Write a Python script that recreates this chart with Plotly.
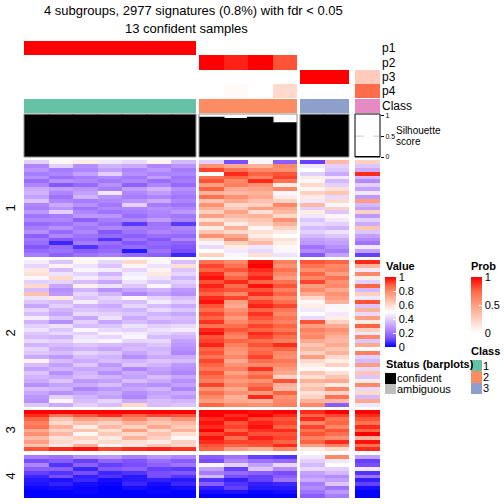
import plotly.graph_objects as go

# ---------------- data ----------------
group_sizes = [7, 4, 2, 1]
row_group_labels = ["1", "2", "3", "4"]
annotation_names = ["p1", "p2", "p3", "p4"]

p1 = [1, 1, 1, 1, 1, 1, 1, 0, 0, 0, 0, 0, 0, 0]
p2 = [0, 0, 0, 0, 0, 0, 0, 1.0, 0.92, 1.0, 0.8, 0, 0, 0]
p3 = [0, 0, 0, 0, 0, 0, 0, 0, 0, 0, 0, 1, 1, 0.27]
p4 = [0, 0, 0, 0, 0, 0, 0, 0, 0.03, 0, 0.2, 0, 0, 0.73]
sample_class = [1, 1, 1, 1, 1, 1, 1, 2, 2, 2, 2, 3, 3, 4]
silhouette = [1, 1, 1, 1, 1, 1, 1, 0.94, 0.91, 0.94, 0.81, 1, 1, 0]

class_colors = {1: "#66C2A5", 2: "#FC8D62", 3: "#8DA0CB", 4: "#E78AC3"}
class_legend_labels = ["1", "2", "3"]
status_labels = ["confident", "ambiguous"]
status_colors = ["#000000", "#BEBEBE"]

rows_group1 = [
    [0.40,0.52,0.55,0.45,0.42,0.53,0.35, 0.40,0.12,0.48,0.15, 0.10,0.68, 0.62],
    [0.24,0.40,0.26,0.34,0.32,0.24,0.27, 0.78,0.72,0.70,0.80, 0.45,0.40, 0.38],
    [0.27,0.22,0.24,0.29,0.24,0.28,0.22, 0.92,0.85,0.80,0.78, 0.50,0.38, 0.32],
    [0.22,0.24,0.30,0.40,0.26,0.23,0.24, 0.50,0.95,0.88,0.90, 0.40,0.32, 0.95],
    [0.26,0.19,0.22,0.24,0.21,0.29,0.20, 0.85,0.88,0.82,0.92, 0.55,0.45, 0.35],
    [0.19,0.26,0.24,0.21,0.24,0.19,0.22, 0.90,0.80,0.95,0.85, 0.48,0.35, 0.25],
    [0.24,0.14,0.18,0.26,0.16,0.24,0.18, 0.75,0.82,0.78,0.55, 0.60,0.40, 0.40],
    [0.32,0.29,0.27,0.22,0.29,0.34,0.26, 0.88,0.72,0.74,0.80, 0.52,0.58, 0.30],
    [0.34,0.24,0.30,0.45,0.24,0.29,0.23, 0.70,0.68,0.70,0.48, 0.62,0.65, 0.45],
    [0.30,0.20,0.34,0.26,0.22,0.24,0.21, 0.85,0.78,0.72,0.55, 0.55,0.42, 0.28],
    [0.38,0.24,0.22,0.24,0.27,0.32,0.24, 0.65,0.72,0.66,0.62, 0.45,0.60, 0.75],
    [0.24,0.32,0.26,0.21,0.40,0.22,0.20, 0.78,0.60,0.62,0.80, 0.68,0.48, 0.35],
    [0.22,0.27,0.20,0.24,0.24,0.26,0.24, 0.70,0.65,0.75,0.72, 0.40,0.62, 0.30],
    [0.28,0.40,0.24,0.20,0.22,0.24,0.28, 0.62,0.74,0.58,0.68, 0.55,0.38, 0.62],
    [0.20,0.22,0.28,0.27,0.19,0.23,0.21, 0.75,0.68,0.70,0.60, 0.45,0.52, 0.28],
    [0.24,0.24,0.16,0.22,0.24,0.29,0.23, 0.58,0.62,0.65,0.78, 0.38,0.45, 0.40],
    [0.18,0.20,0.24,0.19,0.09,0.20,0.09, 0.72,0.55,0.62,0.70, 0.42,0.40, 0.32],
    [0.22,0.26,0.21,0.24,0.22,0.21,0.24, 0.55,0.70,0.52,0.62, 0.36,0.34, 0.65],
    [0.26,0.18,0.24,0.14,0.20,0.24,0.22, 0.65,0.60,0.58,0.55, 0.40,0.44, 0.38],
    [0.16,0.24,0.20,0.18,0.16,0.19,0.18, 0.78,0.72,0.55,0.50, 0.35,0.38, 0.30],
    [0.21,0.14,0.18,0.08,0.20,0.14,0.24, 0.60,0.80,0.62,0.58, 0.30,0.32, 0.25],
    [0.19,0.06,0.22,0.19,0.14,0.18,0.16, 0.48,0.62,0.68,0.55, 0.28,0.30, 0.20],
    [0.14,0.18,0.08,0.16,0.18,0.16,0.14, 0.42,0.55,0.45,0.52, 0.20,0.26, 0.45],
    [0.18,0.20,0.16,0.18,0.04,0.20,0.12, 0.50,0.45,0.42,0.48, 0.25,0.22, 0.30],
    [0.22,0.16,0.20,0.22,0.18,0.16,0.06, 0.62,0.48,0.58,0.44, 0.14,0.30, 0.10],
]

rows_group2 = [
    [0.46,0.38,0.52,0.41,0.60,0.48,0.36, 0.85,0.80,0.98,0.82, 0.90,0.88, 0.95],
    [0.41,0.53,0.44,0.38,0.52,0.44,0.58, 0.92,0.85,1.00,0.78, 0.85,0.80, 0.70],
    [0.56,0.36,0.48,0.46,0.41,0.53,0.38, 0.88,0.90,0.95,0.85, 0.78,0.82, 0.45],
    [0.58,0.44,0.41,0.34,0.46,0.56,0.41, 0.95,0.82,0.92,0.80, 0.88,0.75, 0.80],
    [0.48,0.60,0.46,0.41,0.48,0.44,0.34, 0.98,0.88,0.96,0.75, 0.80,0.85, 0.55],
    [0.40,0.41,0.36,0.31,0.44,0.38,0.40, 0.90,0.95,0.88,0.85, 0.92,0.78, 0.40],
    [0.60,0.31,0.54,0.44,0.38,0.48,0.36, 0.96,0.86,0.98,0.90, 0.75,0.80, 0.88],
    [0.36,0.26,0.34,0.26,0.31,0.34,0.28, 0.92,0.90,0.90,0.82, 0.80,0.72, 0.35],
    [0.66,0.28,0.41,0.34,0.24,0.30,0.26, 0.88,0.80,0.95,0.88, 0.72,0.78, 0.62],
    [0.44,0.56,0.38,0.41,0.52,0.41,0.36, 0.95,0.92,0.85,0.80, 0.60,0.75, 0.45],
    [0.38,0.36,0.46,0.38,0.36,0.46,0.40, 0.98,0.75,0.92,0.86, 0.52,0.70, 0.90],
    [0.31,0.40,0.34,0.32,0.41,0.36,0.32, 0.90,0.72,0.96,0.92, 0.55,0.48, 0.38],
    [0.41,0.34,0.38,0.36,0.34,0.42,0.38, 0.86,0.78,0.88,0.84, 0.45,0.52, 0.70],
    [0.36,0.31,0.42,0.40,0.38,0.34,0.31, 0.92,0.82,0.94,0.80, 0.50,0.45, 0.42],
    [0.46,0.38,0.31,0.44,0.32,0.38,0.36, 0.88,0.76,0.90,0.85, 0.42,0.55, 0.75],
    [0.34,0.26,0.40,0.31,0.36,0.32,0.34, 0.94,0.80,0.86,0.82, 0.90,0.62, 0.55],
    [0.40,0.44,0.36,0.38,0.44,0.40,0.42, 0.85,0.86,0.92,0.88, 0.75,0.72, 0.88],
    [0.44,0.38,0.48,0.42,0.40,0.44,0.46, 0.95,0.90,0.88,0.84, 0.82,0.78, 0.62],
    [0.38,0.42,0.40,0.53,0.46,0.41,0.38, 0.98,0.85,0.95,0.90, 0.78,0.75, 0.45],
    [0.36,0.34,0.44,0.41,0.48,0.36,0.34, 0.90,0.80,0.92,0.86, 0.80,0.70, 0.80],
    [0.42,0.40,0.46,0.48,0.41,0.42,0.30, 0.92,0.88,0.86,0.82, 0.72,0.68, 0.38],
    [0.34,0.36,0.38,0.36,0.34,0.38,0.28, 0.96,0.82,0.90,0.95, 0.65,0.72, 0.72],
    [0.41,0.32,0.34,0.31,0.36,0.34,0.26, 0.88,0.78,0.85,0.88, 0.70,0.65, 0.50],
    [0.38,0.36,0.41,0.38,0.31,0.36,0.24, 0.90,0.76,0.88,0.80, 0.62,0.70, 0.82],
    [0.32,0.28,0.36,0.34,0.26,0.32,0.32, 0.85,0.80,0.92,0.78, 0.75,0.60, 0.40],
    [0.53,0.36,0.32,0.36,0.34,0.38,0.36, 0.92,0.72,0.86,0.84, 0.60,0.55, 0.35],
    [0.36,0.30,0.38,0.28,0.38,0.34,0.28, 0.88,0.78,0.80,0.80, 0.55,0.62, 0.75],
    [0.30,0.34,0.31,0.32,0.24,0.30,0.26, 0.84,0.82,0.94,0.76, 0.52,0.50, 0.42],
    [0.38,0.26,0.34,0.26,0.32,0.28,0.24, 0.90,0.74,0.82,0.72, 0.65,0.58, 0.65],
    [0.34,0.32,0.36,0.34,0.30,0.36,0.31, 0.86,0.80,0.88,0.62, 0.58,0.65, 0.38],
    [0.32,0.38,0.28,0.30,0.36,0.32,0.26, 0.82,0.76,0.78,0.90, 0.70,0.72, 0.55],
    [0.26,0.30,0.32,0.36,0.28,0.26,0.30, 0.92,0.80,0.85,0.70, 0.62,0.55, 0.80],
    [0.36,0.34,0.24,0.28,0.31,0.34,0.24, 0.78,0.72,0.90,0.68, 0.66,0.80, 0.42],
    [0.31,0.26,0.30,0.32,0.26,0.30,0.32, 0.86,0.78,0.76,0.88, 0.58,0.62, 0.60],
    [0.28,0.40,0.34,0.30,0.24,0.32,0.28, 0.80,0.70,0.95,0.78, 0.62,0.85, 0.35],
    [0.26,0.52,0.36,0.41,0.32,0.36,0.34, 0.75,0.72,0.70,0.80, 0.70,0.68, 0.72],
    [0.38,0.32,0.40,0.36,0.60,0.36,0.38, 0.88,0.80,0.78,0.82, 0.80,0.15, 0.45],
]

rows_group3 = [
    [1.00,1.00,1.00,1.00,1.00,1.00,1.00, 1.00,1.00,0.98,1.00, 0.95,1.00, 1.00],
    [0.95,0.85,0.90,0.95,0.88,0.92,0.90, 1.00,0.95,1.00,0.95, 0.88,0.92, 0.95],
    [0.88,0.65,0.75,0.72,0.80,0.70,0.78, 0.95,0.98,0.92,0.90, 0.95,0.85, 0.90],
    [0.82,0.60,0.66,0.62,0.70,0.65,0.68, 0.98,0.90,0.96,0.92, 0.80,0.88, 0.85],
    [0.85,0.70,0.55,0.68,0.62,0.72,0.64, 0.95,0.92,0.98,0.88, 0.92,0.80, 0.95],
    [0.72,0.62,0.66,0.58,0.75,0.60,0.70, 1.00,0.88,0.94,0.95, 0.85,0.90, 0.88],
    [0.78,0.68,0.52,0.64,0.60,0.66,0.58, 0.92,0.95,0.90,0.90, 0.90,0.86, 1.00],
    [0.68,0.58,0.62,0.55,0.70,0.62,0.52, 0.98,0.86,0.96,0.92, 0.82,0.78, 0.70],
    [0.75,0.60,0.56,0.60,0.58,0.55,0.62, 0.95,0.92,0.92,0.88, 0.88,0.95, 0.98],
    [0.65,0.55,0.70,0.52,0.56,0.64,0.60, 0.90,0.88,0.90,0.95, 0.75,0.82, 0.85],
    [0.90,0.95,0.98,0.92,0.95,0.96,0.94, 0.88,0.75,0.70,0.80, 0.55,0.60, 0.95],
]

rows_group4 = [
    [0.22,0.20,0.26,0.28,0.22,0.27,0.24, 0.15,0.20,0.10,0.08, 0.45,0.80, 0.30],
    [0.12,0.15,0.10,0.17,0.13,0.19,0.15, 0.12,0.25,0.20,0.18, 0.40,0.45, 0.10],
    [0.24,0.08,0.16,0.10,0.12,0.16,0.20, 0.48,0.40,0.30,0.42, 0.35,0.50, 0.12],
    [0.15,0.16,0.06,0.14,0.16,0.10,0.09, 0.30,0.10,0.38,0.25, 0.42,0.40, 0.45],
    [0.10,0.08,0.12,0.06,0.08,0.12,0.14, 0.22,0.18,0.15,0.12, 0.30,0.35, 0.08],
    [0.06,0.12,0.05,0.08,0.04,0.12,0.08, 0.35,0.12,0.10,0.15, 0.28,0.25, 0.20],
    [0.04,0.03,0.06,0.02,0.04,0.05,0.04, 0.08,0.05,0.10,0.20, 0.32,0.30, 0.05],
    [0.03,0.05,0.02,0.01,0.06,0.02,0.06, 0.15,0.08,0.05,0.06, 0.22,0.38, 0.10],
    [0.01,0.02,0.01,0.00,0.02,0.01,0.02, 0.05,0.10,0.04,0.04, 0.25,0.20, 0.02],
    [0.00,0.00,0.01,0.00,0.00,0.01,0.00, 0.02,0.03,0.01,0.02, 0.20,0.28, 0.00],
    [0.00,0.00,0.00,0.00,0.00,0.00,0.00, 0.00,0.00,0.00,0.00, 0.15,0.22, 0.00],
]

value_ticks = [0, 0.2, 0.4, 0.6, 0.8, 1]
value_tick_text = ["0", "0.2", "0.4", "0.6", "0.8", "1"]
prob_ticks = [0, 0.5, 1]
prob_tick_text = ["0", "0.5", "1"]
sil_ticks = [0, 0.5, 1]
sil_tick_text = ["0", "0.5", "1"]

# ---------------- layout constants (pixels) ----------------
W = H = 504
FONT = "Liberation Sans, Arial, Helvetica, sans-serif"
col_px = [(24, 196), (199, 297), (300, 349), (355, 380)]
row_px = [(160, 257), (260, 407), (410, 451), (455, 498)]
p_px = (41, 98)
class_px = (99, 113)
sil_px = (114, 157)


def fx(p):
    return p / W


def fy(p):
    return 1 - p / H


value_scale = [[0, "#0000FF"], [0.125, "#7E51FF"], [0.25, "#B38BFF"], [0.375, "#DCC4FF"],
               [0.5, "#FFFFFF"], [0.625, "#FFCFBF"], [0.75, "#FF9E81"], [0.875, "#FF6846"],
               [1, "#FF0000"]]
prob_scale = [[0, "#FFFFFF"], [0.25, "#FFCFBF"], [0.5, "#FF9E81"], [0.75, "#FF6846"], [1, "#FF0000"]]

fig = go.Figure()

row_groups = [rows_group1, rows_group2, rows_group3, rows_group4]
starts = [0]
for n in group_sizes[:-1]:
    starts.append(starts[-1] + n)


def xname(ci):
    return "x" if ci == 0 else f"x{ci + 1}"


def yname(ri):
    return "y" if ri == 0 else f"y{ri + 1}"


# main heatmap blocks
for ri, rows in enumerate(row_groups):
    for ci, n in enumerate(group_sizes):
        s = starts[ci]
        z = [r[s:s + n] for r in rows]
        fig.add_trace(go.Heatmap(z=z, xaxis=xname(ci), yaxis=yname(ri),
                                 coloraxis="coloraxis", hoverinfo="skip"))

# top annotations
for ci, n in enumerate(group_sizes):
    s = starts[ci]
    zp = [p1[s:s + n], p2[s:s + n], p3[s:s + n], p4[s:s + n]]
    fig.add_trace(go.Heatmap(z=zp, xaxis=xname(ci), yaxis="y5",
                             coloraxis="coloraxis2", hoverinfo="skip"))
    cls = sample_class[s:s + n]
    c = class_colors[cls[0]]
    fig.add_trace(go.Heatmap(z=[cls], xaxis=xname(ci), yaxis="y6",
                             colorscale=[[0, c], [1, c]], showscale=False, hoverinfo="skip"))
    fig.add_trace(go.Bar(x=list(range(n)), y=silhouette[s:s + n], xaxis=xname(ci), yaxis="y7",
                         width=1, marker=dict(color="black", line=dict(width=2, color="black")),
                         hoverinfo="skip", showlegend=False))

# legend swatches
fig.add_trace(go.Heatmap(z=[[1], [2], [3]], xaxis="x5", yaxis="y8", zmin=1, zmax=3,
                         colorscale=[[0, class_colors[1]], [0.5, class_colors[2]], [1, class_colors[3]]],
                         showscale=False, hoverinfo="skip"))
fig.add_trace(go.Heatmap(z=[[0], [1]], xaxis="x6", yaxis="y9", zmin=0, zmax=1,
                         colorscale=[[0, status_colors[0]], [1, status_colors[1]]],
                         showscale=False, hoverinfo="skip"))

layout = dict(
    width=W, height=H, autosize=False,
    margin=dict(l=0, r=0, t=0, b=0, pad=0),
    paper_bgcolor="white", plot_bgcolor="rgba(0,0,0,0)",
    font=dict(family=FONT, color="black", size=12),
    showlegend=False,
    coloraxis=dict(colorscale=value_scale, cmin=0, cmax=1,
                   colorbar=dict(x=fx(385), xanchor="left", y=fy(277), yanchor="top",
                                 len=70, lenmode="pixels", thickness=11, thicknessmode="pixels",
                                 xpad=0, ypad=0, outlinewidth=0,
                                 tickvals=value_ticks, ticktext=value_tick_text,
                                 ticks="inside", tickcolor="white", ticklen=3,
                                 tickfont=dict(size=11, family=FONT, color="black"))),
    coloraxis2=dict(colorscale=prob_scale, cmin=0, cmax=1,
                    colorbar=dict(x=fx(471), xanchor="left", y=fy(277), yanchor="top",
                                  len=56, lenmode="pixels", thickness=11, thicknessmode="pixels",
                                  xpad=0, ypad=0, outlinewidth=0,
                                  tickvals=prob_ticks, ticktext=prob_tick_text,
                                  ticks="inside", tickcolor="white", ticklen=3,
                                  tickfont=dict(size=11, family=FONT, color="black"))),
)

for ci, n in enumerate(group_sizes):
    key = "xaxis" if ci == 0 else f"xaxis{ci + 1}"
    layout[key] = dict(domain=[fx(col_px[ci][0]), fx(col_px[ci][1])], range=[-0.5, n - 0.5],
                       visible=False, anchor="y7")
for ri, rows in enumerate(row_groups):
    key = "yaxis" if ri == 0 else f"yaxis{ri + 1}"
    layout[key] = dict(domain=[fy(row_px[ri][1]), fy(row_px[ri][0])],
                       range=[len(rows) - 0.5, -0.5], visible=False, anchor="x")

layout["yaxis5"] = dict(domain=[fy(p_px[1]), fy(p_px[0])], range=[3.5, -0.5],
                        anchor="free", position=fx(381), side="right",
                        tickvals=[0, 1, 2, 3], ticktext=annotation_names, ticks="",
                        showgrid=False, zeroline=False, showline=False,
                        tickfont=dict(size=12), automargin=False)
layout["yaxis6"] = dict(domain=[fy(class_px[1]), fy(class_px[0])], range=[0.5, -0.5],
                        anchor="free", position=fx(381), side="right",
                        tickvals=[0], ticktext=["Class"], ticks="",
                        showgrid=False, zeroline=False, showline=False,
                        tickfont=dict(size=12), automargin=False)
layout["yaxis7"] = dict(domain=[fy(sil_px[1]), fy(sil_px[0])], range=[0, 1.03],
                        anchor="free", position=fx(380), side="right",
                        tickvals=sil_ticks, ticktext=sil_tick_text, ticks="outside", ticklen=3,
                        tickcolor="black", showgrid=False, zeroline=False, showline=False,
                        tickfont=dict(size=7), automargin=False)
layout["xaxis5"] = dict(domain=[fx(471), fx(482)], range=[-0.5, 0.5], visible=False, anchor="y8")
layout["yaxis8"] = dict(domain=[fy(394), fy(360)], range=[2.5, -0.5], anchor="x5", side="right",
                        tickvals=[0, 1, 2], ticktext=class_legend_labels, ticks="",
                        showgrid=False, zeroline=False, showline=False,
                        tickfont=dict(size=11), automargin=False)
layout["xaxis6"] = dict(domain=[fx(385), fx(396)], range=[-0.5, 0.5], visible=False, anchor="y9")
layout["yaxis9"] = dict(domain=[fy(394), fy(373)], range=[1.5, -0.5], anchor="x6", side="right",
                        tickvals=[0, 1], ticktext=status_labels, ticks="",
                        showgrid=False, zeroline=False, showline=False,
                        tickfont=dict(size=11), automargin=False)

fig.update_layout(**layout)

# silhouette boxes and reference line
for ci in range(4):
    xr = ("x" if ci == 0 else f"x{ci + 1}") + " domain"
    fig.add_shape(type="line", xref=xr, yref="y7", x0=0, x1=1, y0=0.5, y1=0.5,
                  line=dict(color="#cccccc", width=1, dash="dash"), layer="below")
    fig.add_shape(type="rect", xref=xr, yref="y7 domain", x0=0, x1=1, y0=0, y1=1,
                  line=dict(color="black" if ci == 3 else "#8c8c8c", width=1),
                  fillcolor="rgba(0,0,0,0)", layer="above")

annots = [
    dict(text="4 subgroups, 2977 signatures (0.8%) with fdr < 0.05", x=fx(193), y=fy(10), size=13, xanchor="center"),
    dict(text="13 confident samples", x=fx(186), y=fy(28), size=13, xanchor="center"),
    dict(text="<b>Value</b>", x=fx(384), y=fy(266), size=11, xanchor="left"),
    dict(text="<b>Prob</b>", x=fx(469), y=fy(266), size=11, xanchor="left"),
    dict(text="<b>Class</b>", x=fx(469), y=fy(351), size=11, xanchor="left"),
    dict(text="<b>Status (barplots)</b>", x=fx(384), y=fy(364), size=11, xanchor="left"),
    dict(text="Silhouette", x=fx(394), y=fy(130.5), size=10, xanchor="left"),
    dict(text="score", x=fx(394), y=fy(141), size=10, xanchor="left"),
]
for a in annots:
    fig.add_annotation(text=a["text"], x=a["x"], y=a["y"], xref="paper", yref="paper",
                       xanchor=a["xanchor"], yanchor="middle", showarrow=False,
                       font=dict(size=a["size"], family=FONT, color="black"))

for ri, lab in enumerate(row_group_labels):
    yc = (row_px[ri][0] + row_px[ri][1]) / 2
    fig.add_annotation(text=lab, x=fx(10), y=fy(yc), xref="paper", yref="paper",
                       xanchor="center", yanchor="middle", showarrow=False, textangle=-90,
                       font=dict(size=13, family=FONT, color="black"))

fig.write_html("out.html", config={"displayModeBar": False},
               post_script="document.body.style.margin='0px';document.body.style.overflow='hidden';")
